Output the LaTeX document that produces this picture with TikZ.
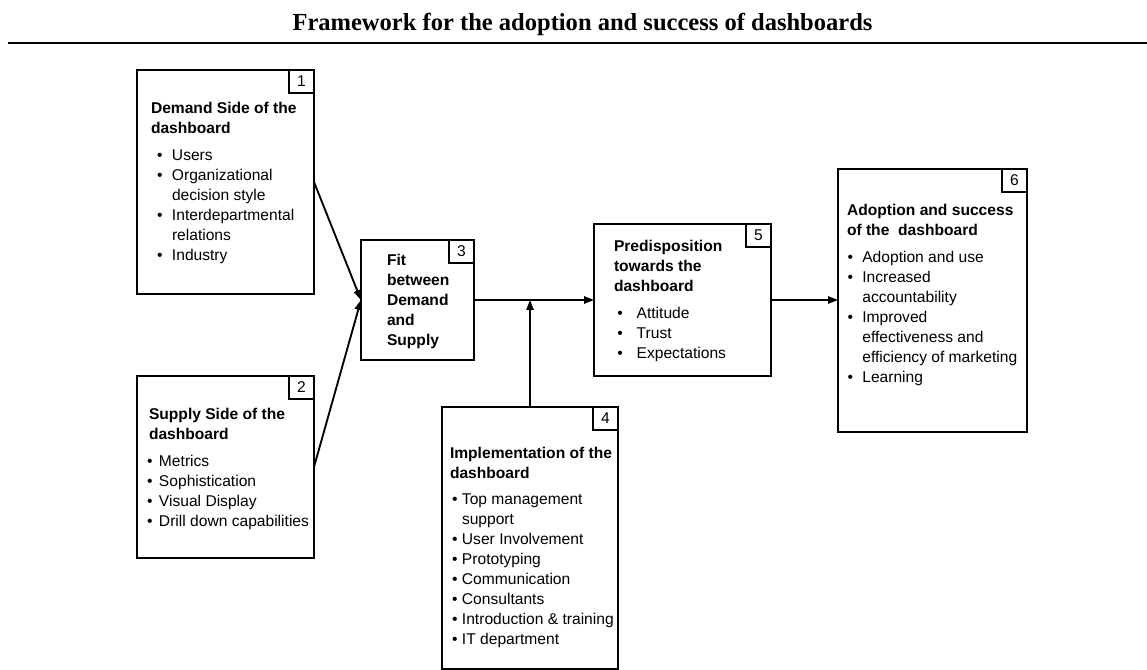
\documentclass[tikz,border=0pt]{standalone}
\usepackage{fontspec}
\setmainfont{Liberation Sans}
\newfontfamily\titlefont{Liberation Serif}
\usetikzlibrary{arrows.meta}
\newlength\bulx
\newlength\bulw
\newcommand\bitem[1]{\hspace*{\bulx}\makebox[\bulw][l]{\textbullet}#1}
\newcommand\bcont[1]{\hspace*{\bulx}\hspace*{\bulw}#1}
\begin{document}
\begin{tikzpicture}[x=0.75pt,y=-0.75pt,
  box/.style={draw,line width=1.4pt,rectangle,inner sep=0pt,outer sep=0pt,anchor=north west},
  numbox/.style={draw,line width=1.4pt,rectangle,inner sep=0pt,outer sep=0pt,anchor=north east,
    minimum width=18.75pt,minimum height=17.25pt,font=\fontsize{11.7}{15}\selectfont},
  txt/.style={inner sep=0pt,outer sep=0pt,anchor=base west,font=\fontsize{11.7}{15}\selectfont},
  arr/.style={line width=1.4pt,-{Triangle[length=7.5pt,width=5.5pt]}}]
\useasboundingbox (0,0) rectangle (1147,670);

% title and rule
\node[anchor=base,inner sep=0pt,font=\titlefont\bfseries\fontsize{18.4}{22}\selectfont] (title) at (582.5,31)
  {Framework for the adoption and success of dashboards};
\coordinate (rl) at (8,43);
\coordinate (rr) at (1147,43);
\draw[line width=1.6pt] (rl) -- (rr);

% boxes
\node[box,minimum width=132.75pt,minimum height=168pt] (b1) at (137,70) {};
\node[box,minimum width=132.75pt,minimum height=136.5pt] (b2) at (137,376) {};
\node[box,minimum width=84.75pt,minimum height=90pt] (b3) at (361,240) {};
\node[box,minimum width=132pt,minimum height=196.5pt] (b4) at (442,407) {};
\node[box,minimum width=132.75pt,minimum height=114pt] (b5) at (594,224) {};
\node[box,minimum width=141.75pt,minimum height=197.25pt] (b6) at (838,169) {};

% number boxes
\node[numbox] (n1) at (b1.north east) {1};
\node[numbox] (n2) at (b2.north east) {2};
\node[numbox] (n3) at (b3.north east) {3};
\node[numbox] (n4) at (b4.north east) {4};
\node[numbox] (n5) at (b5.north east) {5};
\node[numbox] (n6) at (b6.north east) {6};

% texts
\node[txt] (t1) at (151,114) {\setlength\bulx{4.5pt}\setlength\bulw{11.25pt}%
\begin{tabular}[t]{@{}l@{}}\textbf{Demand Side of the}\\\textbf{dashboard}\\[5.25pt]
\bitem{Users}\\\bitem{Organizational}\\\bcont{decision style}\\\bitem{Interdepartmental}\\\bcont{relations}\\\bitem{Industry}
\end{tabular}};

\node[txt] (t2) at (149,420) {\setlength\bulx{-1.5pt}\setlength\bulw{9pt}%
\begin{tabular}[t]{@{}l@{}}\textbf{Supply Side of the}\\\textbf{dashboard}\\[5.25pt]
\bitem{Metrics}\\\bitem{Sophistication}\\\bitem{Visual Display}\\\bitem{Drill down capabilities}
\end{tabular}};

\node[txt] (t3) at (387,266) {%
\begin{tabular}[t]{@{}l@{}}\textbf{Fit}\\\textbf{between}\\\textbf{Demand}\\\textbf{and}\\\textbf{Supply}
\end{tabular}};

\node[txt] (t4) at (450,459) {\setlength\bulx{1.5pt}\setlength\bulw{7.5pt}%
\begin{tabular}[t]{@{}l@{}}\textbf{Implementation of the}\\\textbf{dashboard}\\[4.5pt]
\bitem{Top management}\\\bcont{support}\\\bitem{User Involvement}\\\bitem{Prototyping}\\\bitem{Communication}\\\bitem{Consultants}\\\bitem{Introduction \& training}\\\bitem{IT department}
\end{tabular}};

\node[txt] (t5) at (614,252) {\setlength\bulx{2.5pt}\setlength\bulw{14.5pt}%
\begin{tabular}[t]{@{}l@{}}\textbf{Predisposition}\\\textbf{towards the}\\\textbf{dashboard}\\[5.25pt]
\bitem{Attitude}\\\bitem{Trust}\\\bitem{Expectations}
\end{tabular}};

\node[txt] (t6) at (847,216) {\setlength\bulx{0.5pt}\setlength\bulw{11pt}%
\begin{tabular}[t]{@{}l@{}}\textbf{Adoption and success}\\\textbf{of the\ \ dashboard}\\[5.25pt]
\bitem{Adoption and use}\\\bitem{Increased}\\\bcont{accountability}\\\bitem{Improved}\\\bcont{effectiveness and}\\\bcont{efficiency of marketing}\\\bitem{Learning}
\end{tabular}};

% connectors
\draw[arr] (b1.east) -- (b3.west);
\draw[arr] (b2.east) -- (b3.west);
\draw[arr] (b3.east) -- (b5.west);
\draw[arr] (b4.north) -- (b4.north |- b3.east);
\draw[arr] (b5.east) -- (b5.east -| b6.west);
\end{tikzpicture}
\end{document}
